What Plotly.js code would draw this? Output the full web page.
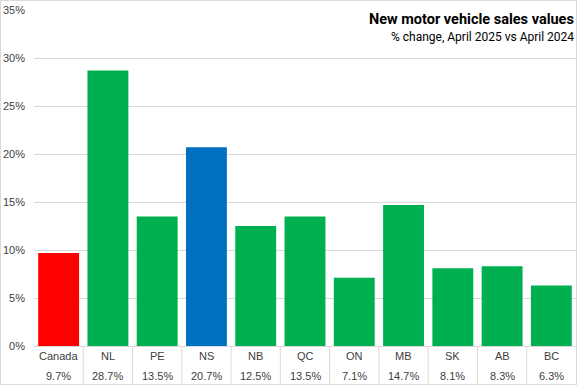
<!DOCTYPE html>
<html><head><meta charset="utf-8">
<script src="https://cdn.plot.ly/plotly-3.0.1.min.js"></script>
<style>
html,body{margin:0;padding:0;background:#fff;}
#wrap{position:relative;width:577px;height:385px;}
#frame{position:absolute;left:0;top:0;width:575px;height:383px;border:1px solid #d9d9d9;pointer-events:none;}
</style></head>
<body><div id="wrap"><div id="chart" style="width:577px;height:385px;"></div><div id="frame"></div></div>
<script>
const categories = ["Canada","NL","PE","NS","NB","QC","ON","MB","SK","AB","BC"];
const values = [9.7,28.7,13.5,20.7,12.5,13.5,7.1,14.7,8.1,8.3,6.3];
const valueLabels = ["9.7%","28.7%","13.5%","20.7%","12.5%","13.5%","7.1%","14.7%","8.1%","8.3%","6.3%"];
const barColors = ["#ff0000","#00b050","#00b050","#0070c0","#00b050","#00b050","#00b050","#00b050","#00b050","#00b050","#00b050"];
const yTicks = [0,5,10,15,20,25,30,35];
const yTickLabels = ["0%","5%","10%","15%","20%","25%","30%","35%"];
const titleText = "New motor vehicle sales values";
const subtitleText = "% change, April 2025 vs April 2024";

const tickFont = {family:"Liberation Sans, Arial, sans-serif", size:11, color:"#404040"};
const annotations = [];
categories.forEach((c,i)=>{
  annotations.push({x:c, xref:'x', y:-0.006, yref:'paper', yanchor:'top', text:c, showarrow:false, font:tickFont});
  annotations.push({x:c, xref:'x', y:-0.065, yref:'paper', yanchor:'top', text:valueLabels[i], showarrow:false, font:tickFont});
});
annotations.push({x:1, xref:'paper', xanchor:'right', y:1.003, yref:'paper', yanchor:'top', text:'<b>'+titleText+'</b>', showarrow:false, font:{family:"Roboto, sans-serif", size:14.5, color:"#000"}});
annotations.push({x:1, xref:'paper', xanchor:'right', y:0.945, yref:'paper', yanchor:'top', text:subtitleText, showarrow:false, font:{family:"Roboto, sans-serif", size:12, color:"#000"}});

const shapes = [];
for(let i=1;i<categories.length;i++){
  shapes.push({type:'line', xref:'x', yref:'paper', x0:i-0.5, x1:i-0.5, y0:0, y1:-0.12, line:{color:'#d9d9d9', width:1}});
}

Plotly.newPlot('chart',[{
  type:'bar', x:categories, y:values, marker:{color:barColors}, hoverinfo:'skip'
}],{
  width:577, height:385,
  margin:{l:34, r:1, t:10, b:39},
  paper_bgcolor:'#fff', plot_bgcolor:'#fff',
  bargap:0.17,
  showlegend:false,
  xaxis:{showticklabels:false, ticks:'', showline:true, linecolor:'#d9d9d9', linewidth:1, showgrid:false, zeroline:false},
  yaxis:{range:[0,35], tickvals:yTicks, ticktext:yTickLabels, showgrid:true, gridcolor:'#d9d9d9', gridwidth:1, zeroline:false, showline:false, tickfont:tickFont, ticks:'', ticklabelstandoff:8},
  annotations:annotations,
  shapes:shapes
},{displayModeBar:false, staticPlot:true});
</script></body></html>
